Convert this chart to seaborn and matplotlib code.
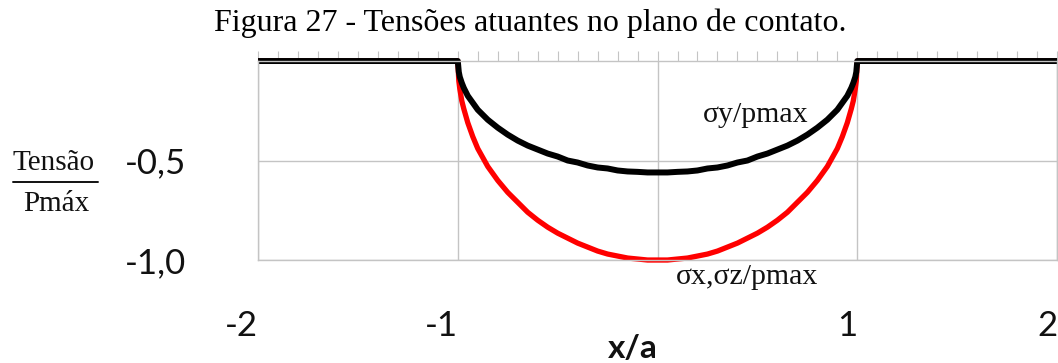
import matplotlib
matplotlib.use("Agg")
import matplotlib.pyplot as plt
from matplotlib.ticker import FixedLocator, MultipleLocator, NullFormatter
import matplotlib.transforms as mtransforms
import pandas as pd
import seaborn as sns

# Normalised position along the contact plane
x_a = [-2.0, -1.0, -0.995, -0.99, -0.98, -0.97, -0.95, -0.925, -0.9, -0.85, -0.8,
       -0.75, -0.7, -0.65, -0.6, -0.55, -0.5, -0.45, -0.4, -0.35, -0.3, -0.25, -0.2,
       -0.15, -0.1, -0.05, 0.0, 0.05, 0.1, 0.15, 0.2, 0.25, 0.3, 0.35, 0.4, 0.45,
       0.5, 0.55, 0.6, 0.65, 0.7, 0.75, 0.8, 0.85, 0.9, 0.925, 0.95, 0.97, 0.98,
       0.99, 0.995, 1.0, 2.0]
# sigma_y / pmax
sigma_y = [0.0, 0.0, -0.055, -0.08, -0.11, -0.135, -0.175, -0.21, -0.245, -0.295,
           -0.335, -0.37, -0.40, -0.425, -0.445, -0.465, -0.48, -0.50, -0.51, -0.525,
           -0.535, -0.54, -0.55, -0.555, -0.557, -0.56, -0.56, -0.56, -0.557, -0.555,
           -0.55, -0.54, -0.535, -0.525, -0.51, -0.50, -0.48, -0.465, -0.445, -0.425,
           -0.40, -0.37, -0.335, -0.295, -0.245, -0.21, -0.175, -0.135, -0.11, -0.08,
           -0.055, 0.0, 0.0]
# sigma_x = sigma_z, divided by pmax
sigma_xz = [0.0, 0.0, -0.10, -0.14, -0.20, -0.24, -0.31, -0.38, -0.44, -0.53, -0.60,
            -0.66, -0.71, -0.76, -0.80, -0.835, -0.865, -0.89, -0.915, -0.935, -0.955,
            -0.97, -0.98, -0.99, -0.995, -1.0, -1.0, -1.0, -0.995, -0.99, -0.98, -0.97,
            -0.955, -0.935, -0.915, -0.89, -0.865, -0.835, -0.80, -0.76, -0.71, -0.66,
            -0.60, -0.53, -0.44, -0.38, -0.31, -0.24, -0.20, -0.14, -0.10, 0.0, 0.0]

x_ticks = [-2, -1, 0, 1, 2]
x_tick_labels = ["-2", "-1", "", "1", "2"]
y_ticks = [-1.0, -0.5]
y_tick_labels = ["-1,0", "-0,5"]

title_text = "Figura 27 - Tensões atuantes no plano de contato."
label_sy = "σy/pmax"
label_sxz = "σx,σz/pmax"

df = pd.DataFrame({"x": x_a, "sy": sigma_y, "sxz": sigma_xz})

sns.set_theme(style="white")
plt.rcParams["font.family"] = ["Lato", "DejaVu Sans"]

grid_c = "#c4c4c4"
serif = ["Liberation Serif", "DejaVu Serif"]

fig = plt.figure(figsize=(10.58, 3.63), dpi=100)
ax = fig.add_axes([0.2439, 0.2837, 0.7552, 0.5482])

sns.lineplot(data=df, x="x", y="sxz", ax=ax, color="#ff0000", linewidth=3.8,
             sort=False, estimator=None, clip_on=False,
             solid_joinstyle="round", solid_capstyle="butt")
sns.lineplot(data=df, x="x", y="sy", ax=ax, color="#000000", linewidth=4.3,
             sort=False, estimator=None, clip_on=False,
             solid_joinstyle="round", solid_capstyle="butt")

ax.set_xlim(-2, 2)
ax.set_ylim(-1, 0)
ax.set_xlabel("")
ax.set_ylabel("")

ax.xaxis.set_major_locator(FixedLocator(x_ticks))
ax.set_xticklabels(x_tick_labels)
ax.xaxis.set_minor_locator(MultipleLocator(0.1))
ax.xaxis.set_minor_formatter(NullFormatter())
ax.yaxis.set_major_locator(FixedLocator(y_ticks))
ax.set_yticklabels(y_tick_labels)

ax.grid(True, which="major", color=grid_c, linewidth=1.0)
ax.set_axisbelow(True)
for side in ["left", "right", "top", "bottom"]:
    ax.spines[side].set_color(grid_c)
    ax.spines[side].set_linewidth(1.0)

ax.tick_params(axis="x", which="both", top=True, bottom=False, labeltop=False,
               labelbottom=True, direction="out", length=7.2, width=0.8,
               color=grid_c, pad=29, labelsize=25, labelcolor="#111111")
ax.tick_params(axis="y", which="both", left=False, right=False, pad=46,
               labelsize=25, labelcolor="#111111")
for lbl in ax.get_xticklabels():
    lbl.set_ha("right")

# curve labels
ax.text(0.225, -0.305, label_sy, fontsize=21.5, family=serif, color="#111111",
        ha="left", va="baseline")
ax.text(0.09, -1.123, label_sxz, fontsize=21.5, family=serif, color="#111111",
        ha="left", va="baseline", clip_on=False)

# axis title below the plot
trans = mtransforms.blended_transform_factory(ax.transData, fig.transFigure)
ax.text(0.0, 1 - 358 / 363, "x/a", transform=trans, fontsize=24,
        fontweight="bold", ha="right", va="baseline", color="#111111")

# stacked fraction "Tensão / Pmáx"
fig.text(54 / 1058, 1 - 170 / 363, "Tensão", fontsize=21, family=serif,
         ha="center", va="baseline", color="#111111")
fig.text(56 / 1058, 1 - 211 / 363, "Pmáx", fontsize=21, family=serif,
         ha="center", va="baseline", color="#111111")
fig.add_artist(plt.Line2D([13 / 1058, 98 / 1058], [1 - 182 / 363, 1 - 182 / 363],
                          color="#111111", linewidth=1.4, transform=fig.transFigure))

fig.text(0.501, 1 - 31.5 / 363, title_text, fontsize=23, family=serif,
         ha="center", va="baseline", color="#000000")

fig.savefig("out.png", dpi=100, facecolor="white")
